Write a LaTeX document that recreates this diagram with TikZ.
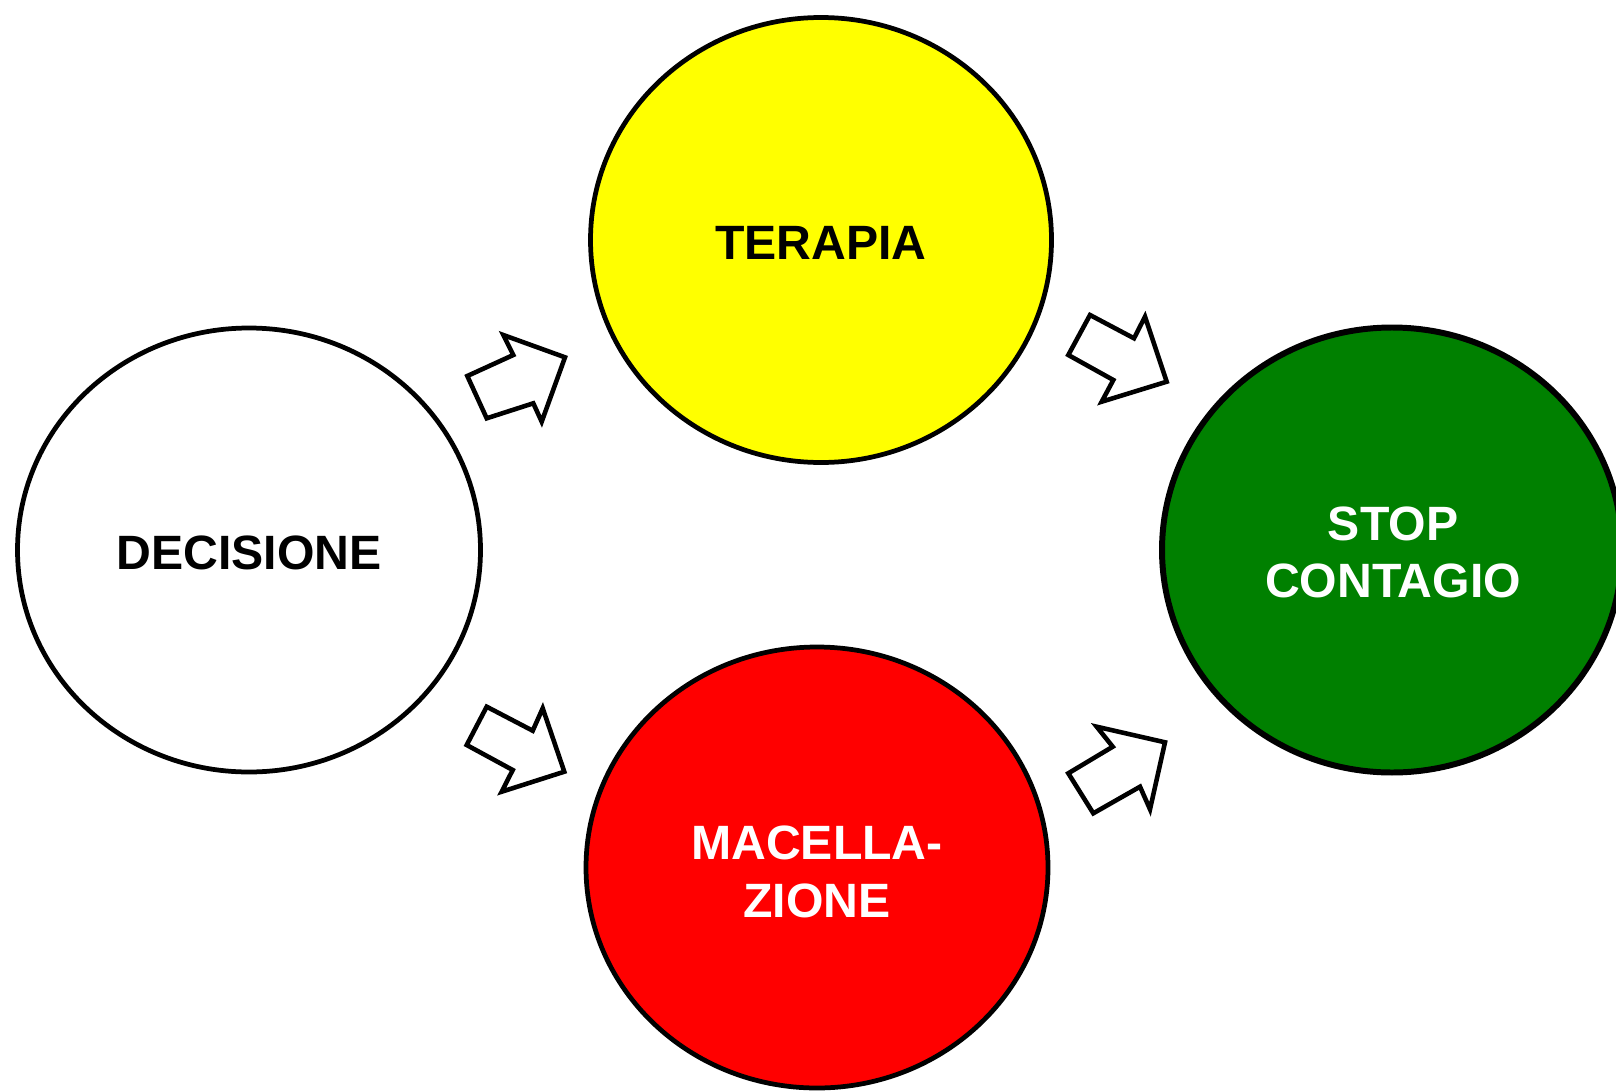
\documentclass[tikz,border=0pt]{standalone}
\usepackage{fontspec}
\setmainfont{Liberation Sans}
\usetikzlibrary{shapes.geometric}
\definecolor{cyellow}{HTML}{FFFF00}
\definecolor{cred}{HTML}{FF0000}
\definecolor{cgreen}{HTML}{008000}
\tikzset{
  bubble/.style={ellipse, draw=black, line width=1.35pt, inner sep=0pt},
  lbl/.style={inner sep=0pt, align=center, font=\fontsize{13.7}{16.3}\selectfont\bfseries},
  blockarrow/.style={draw=black, fill=white, line width=1.3pt, line join=miter}
}
\begin{document}
\begin{tikzpicture}[x=0.01cm, y=-0.01cm]
\useasboundingbox (0,0) rectangle (1616,1091);
\clip (0,0) rectangle (1616,1091);
\fill[white] (0,0) rectangle (1616,1091);
\node[bubble, fill=white, minimum width=463*0.01cm, minimum height=444*0.01cm] (dec) at (249,550) {};
\node[bubble, fill=cyellow, minimum width=461*0.01cm, minimum height=445*0.01cm] (ter) at (821,240) {};
\node[bubble, fill=cred, minimum width=462*0.01cm, minimum height=441*0.01cm] (mac) at (817,867.5) {};
\node[bubble, fill=cgreen, line width=1.7pt, minimum width=460*0.01cm, minimum height=445*0.01cm] (stop) at (1392,550) {};
\node[lbl] (decT) at (249,553) {DECISIONE};
\node[lbl] (terT) at (821,243) {TERAPIA};
\node[lbl, text=white] (macT) at (817,872) {MACELLA-\\ZIONE};
\node[lbl, text=white] (stopT) at (1393,552.5) {STOP\\CONTAGIO};
% block arrows
\draw[blockarrow] (467.3,376) -- (513.3,355) -- (503.3,335) -- (565,357.3) -- (541.7,421.7) -- (533.3,403.3) -- (486.7,418.3) -- cycle;
\draw[blockarrow] (1090,315) -- (1134,338.3) -- (1145,316.7) -- (1166.7,381.7) -- (1101.7,401.7) -- (1113.3,380) -- (1068.3,355) -- cycle;
\draw[blockarrow] (486.7,706.7) -- (532.7,730.7) -- (542.7,708.3) -- (564.3,771.7) -- (501.7,791.7) -- (512.7,770) -- (466.7,745) -- cycle;
\draw[blockarrow] (1096.7,726.7) -- (1165,742.3) -- (1150,809.3) -- (1140,786.7) -- (1093.3,813.3) -- (1068.3,773.3) -- (1112.7,746.7) -- cycle;
\end{tikzpicture}
\end{document}
